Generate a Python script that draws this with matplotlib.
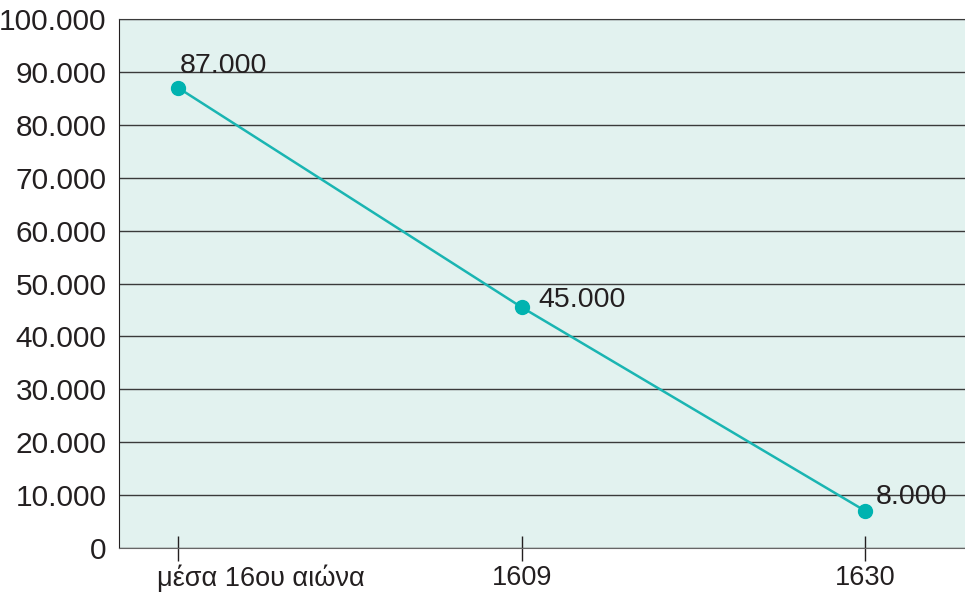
import numpy as np
import matplotlib.pyplot as plt
import matplotlib.transforms as mtransforms
from matplotlib.ticker import FuncFormatter

# δεδομένα (σε χιλιάδες)
periods = ['μέσα 16ου αιώνα', '1609', '1630']
values = [87.0, 45.5, 7.0]
labels = ['87.000', '45.000', '8.000']
yticks = list(range(0, 101, 10))

plt.rcParams['font.family'] = ['Liberation Sans', 'DejaVu Sans']

fig = plt.figure(figsize=(9.65, 5.92), dpi=100)
ax = fig.add_axes([0.1233, 0.0743, 0.8767, 0.8936])
ax.set_facecolor('#e2f2ef')

x = np.arange(len(periods))
ax.plot(x, values, color='#1ab5b2', lw=1.8, marker='o', ms=10,
        markerfacecolor='#00b3b0', markeredgecolor='#00b3b0', zorder=3)

offsets = [(2, 22), (17, 7), (10, 14)]
for xi, v, lab, off in zip(x, values, labels, offsets):
    ax.annotate(lab, (xi, v), xytext=off, textcoords='offset pixels',
                ha='left', va='center', fontsize=20.5, color='#231f20')

ax.set_xlim(-0.172, 2.29)
ax.set_ylim(0, 100)
ax.set_yticks(yticks)
ax.yaxis.set_major_formatter(FuncFormatter(
    lambda v, p: '0' if v == 0 else '{:,.0f}'.format(v * 1000).replace(',', '.')))
ax.set_xticks(x)
ax.set_xticklabels(periods)

ax.yaxis.grid(True, color='#3a3a3a', lw=1.0)
ax.set_axisbelow(True)
ax.tick_params(axis='y', length=0, labelsize=21.5, pad=9, labelcolor='#231f20')
ax.tick_params(axis='x', direction='inout', length=18, width=1, color='#231f20',
               labelsize=19.5, pad=3, labelcolor='#231f20')

# το πρώτο label ξεκινά λίγο αριστερά από το tick
first = ax.get_xticklabels()[0]
first.set_horizontalalignment('left')
first.set_transform(first.get_transform() +
                    mtransforms.ScaledTranslation(-21 / 100, 0, fig.dpi_scale_trans))

ax.spines['left'].set_color('#231f20')
ax.spines['bottom'].set_color('#666666')
ax.spines['top'].set_color('#3a3a3a')
ax.spines['right'].set_visible(False)

fig.savefig('out.png', dpi=100)
